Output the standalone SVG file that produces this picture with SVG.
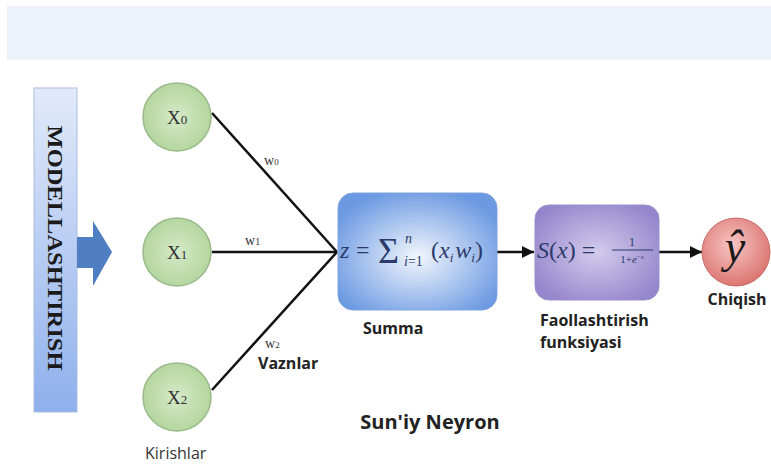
<svg xmlns="http://www.w3.org/2000/svg" width="771" height="466" viewBox="0 0 771 466">
<defs>
  <linearGradient id="gModel" x1="0" y1="0" x2="0" y2="1">
    <stop offset="0" stop-color="#e2eafa"/>
    <stop offset="1" stop-color="#8fb0ec"/>
  </linearGradient>
  <radialGradient id="gGreen" cx="0.5" cy="0.5" r="0.5">
    <stop offset="0" stop-color="#d6eac8"/>
    <stop offset="1" stop-color="#b4d69f"/>
  </radialGradient>
  <radialGradient id="gBlue" cx="0.5" cy="0.55" r="0.6">
    <stop offset="0" stop-color="#f2f6fd"/>
    <stop offset="1" stop-color="#6b99e2"/>
  </radialGradient>
  <radialGradient id="gPurple" cx="0.5" cy="0.5" r="0.6">
    <stop offset="0" stop-color="#d3cbec"/>
    <stop offset="1" stop-color="#9585cc"/>
  </radialGradient>
  <radialGradient id="gRed" cx="0.45" cy="0.4" r="0.6">
    <stop offset="0" stop-color="#f7c6c4"/>
    <stop offset="1" stop-color="#dc7672"/>
  </radialGradient>
  <marker id="ah" viewBox="0 0 10 10" refX="10" refY="5" markerWidth="5" markerHeight="5" orient="auto" markerUnits="strokeWidth">
    <path d="M0,0 L10,5 L0,10 z" fill="#111"/>
  </marker>
  <style>
    .inp { stroke: #9ab98a; stroke-width: 1.5; fill: url(#gGreen); }
    .xl { font-family: "Liberation Serif", serif; font-size: 19px; fill: #333; }
    .wl { font-family: "Liberation Serif", serif; font-size: 14px; fill: #333; }
    .lbl { font-family: "Open Sans", "Liberation Sans", sans-serif; font-weight: bold; font-size: 16px; fill: #222; }
    .cap { font-family: "Open Sans", "Liberation Sans", sans-serif; font-size: 16px; fill: #333; }
    .math { font-family: "Liberation Serif", serif; fill: #2b3a6a; }
    .it { font-style: italic; }
    .conn { stroke: #111; stroke-width: 2.5; fill: none; }
  </style>
</defs>

<rect x="0" y="0" width="771" height="466" fill="#ffffff"/>
<rect x="7" y="6" width="764" height="54" fill="#edf1f9"/>

<g id="modellashtirish">
  <rect x="34" y="88" width="43" height="324" fill="url(#gModel)" stroke="#a9bde0" stroke-width="1"/>
  <text transform="translate(48 248) rotate(90)" text-anchor="middle" font-family="Liberation Serif, serif" font-weight="bold" font-size="21" fill="#1a1a1a" textLength="245" lengthAdjust="spacingAndGlyphs">MODELLASHTIRISH</text>
</g>

<g id="block-arrow">
  <path d="M77,237 L93,237 L93,221 L112,252 L93,286 L93,268 L77,268 Z" fill="#4f7ec2"/>
</g>

<g id="connectors">
  <line class="conn" x1="212" y1="113" x2="337" y2="252"/>
  <line class="conn" x1="212" y1="252" x2="337" y2="252"/>
  <line class="conn" x1="212" y1="390" x2="337" y2="252"/>
  <line class="conn" x1="497" y1="252" x2="534" y2="252" marker-end="url(#ah)"/>
  <line class="conn" x1="659" y1="252" x2="702" y2="252" marker-end="url(#ah)"/>
  <text class="wl" x="264" y="165">w<tspan font-size="9">0</tspan></text>
  <text class="wl" x="245" y="245">w<tspan font-size="10">1</tspan></text>
  <text class="wl" x="265" y="348" font-size="13">w<tspan font-size="9">2</tspan></text>
  <text class="lbl" x="258" y="369">Vaznlar</text>
</g>

<g id="x0">
  <circle class="inp" cx="177" cy="117" r="34"/>
  <text class="xl" x="167" y="124">X<tspan font-size="13">0</tspan></text>
</g>
<g id="x1">
  <circle class="inp" cx="177" cy="252" r="34"/>
  <text class="xl" x="167" y="259">X<tspan font-size="13">1</tspan></text>
</g>
<g id="x2">
  <circle class="inp" cx="177" cy="397" r="34"/>
  <text class="xl" x="167" y="404">X<tspan font-size="13">2</tspan></text>
</g>
<text class="cap" x="145" y="459">Kirishlar</text>

<g id="summa">
  <rect x="338" y="193" width="159" height="117" rx="15" fill="url(#gBlue)" stroke="#7fa3de" stroke-width="1"/>
  <text class="math it" x="340" y="258" font-size="24">z</text>
  <text class="math" x="356" y="258" font-size="24">=</text>
  <text class="math" x="378" y="263" font-size="36">Σ</text>
  <text class="math" x="405" y="243" font-size="14"><tspan class="it">n</tspan></text>
  <text class="math" x="404" y="266" font-size="14"><tspan class="it">i</tspan>=1</text>
  <text class="math" x="431" y="258" font-size="24">(<tspan class="it">x</tspan><tspan class="it" font-size="13" dy="4">i</tspan><tspan class="it" dx="2" dy="-4">w</tspan><tspan class="it" font-size="13" dy="4">i</tspan><tspan dy="-4">)</tspan></text>
  <text class="lbl" x="363" y="334">Summa</text>
</g>

<g id="faollashtirish">
  <rect x="535" y="205" width="124" height="95" rx="14" fill="url(#gPurple)" stroke="#9c8fcc" stroke-width="1"/>
  <text class="math" x="537" y="258" font-size="24"><tspan class="it">S</tspan>(<tspan class="it">x</tspan>) =</text>
  <line x1="612" y1="250" x2="653" y2="250" stroke="#2b3a6a" stroke-width="1"/>
  <text class="math" x="632" y="246" font-size="12" text-anchor="middle">1</text>
  <text class="math" x="632" y="263" font-size="11" text-anchor="middle">1+<tspan class="it">e</tspan><tspan font-size="7" dy="-4">−<tspan class="it">x</tspan></tspan></text>
  <text class="lbl" x="540" y="326">Faollashtirish</text>
  <text class="lbl" x="540" y="348">funksiyasi</text>
</g>

<g id="chiqish">
  <circle cx="736" cy="252" r="34" fill="url(#gRed)" stroke="#c86a66" stroke-width="1"/>
  <text x="735" y="262" text-anchor="middle" font-family="Liberation Serif, serif" font-style="italic" font-size="46" fill="#1a1a1a">ŷ</text>
  <text class="lbl" x="737" y="305" text-anchor="middle">Chiqish</text>
</g>

<text x="430" y="429" text-anchor="middle" font-family="Open Sans, Liberation Sans, sans-serif" font-weight="bold" font-size="20" fill="#222">Sun'iy Neyron</text>
</svg>
